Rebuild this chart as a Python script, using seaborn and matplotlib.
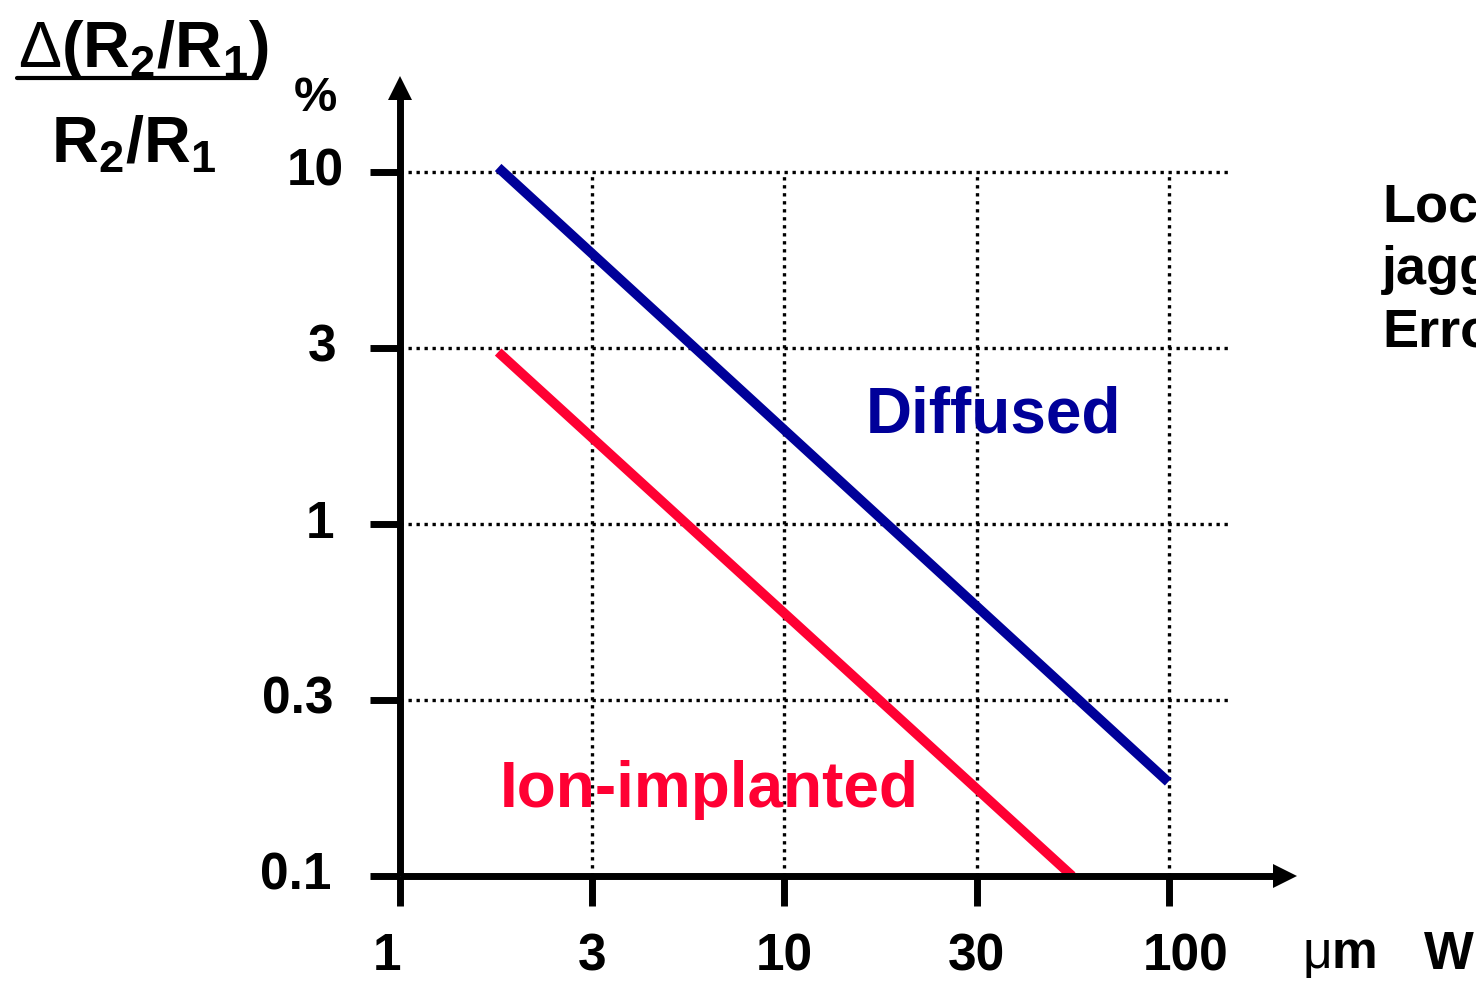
import numpy as np
import pandas as pd
import matplotlib
matplotlib.use("Agg")
import matplotlib.pyplot as plt
import matplotlib.transforms as mtransforms
import seaborn as sns
from matplotlib.lines import Line2D

# ---------------- data ----------------
series_names = ["Diffused", "Ion-implanted"]
w_diffused = [1.8, 99.5]          # µm
ratio_diffused = [10.3, 0.185]    # %
w_ion = [1.8, 56.0]
ratio_ion = [3.08, 0.1]
x_tick_labels = ["1", "3", "10", "30", "100"]
y_tick_labels = ["0.1", "0.3", "1", "3", "10"]
series_colors = {"Diffused": "#000099", "Ion-implanted": "#FF0033"}

# ---------------- style ----------------
sns.set_theme(style="white")
plt.rcParams["font.family"] = ["Liberation Sans", "DejaVu Sans"]
plt.rcParams["mathtext.fontset"] = "custom"
plt.rcParams["mathtext.rm"] = "Liberation Sans"
plt.rcParams["mathtext.bf"] = "Liberation Sans:bold"
plt.rcParams["mathtext.it"] = "Liberation Sans:italic"

W_PX, H_PX = 1476, 986
fig = plt.figure(figsize=(W_PX / 100, H_PX / 100), dpi=100)
fig.patch.set_facecolor("white")

def fx(px):
    return px / W_PX

def fy(py):
    return 1 - py / H_PX

# axes geometry (pixels)
X0, XDEC = 400, 384.5      # x=1 at px 400, one decade = 384.5 px
Y0, YDEC = 876, 352        # y=0.1 at py 876, one decade = 352 px
XR, YT = 1285, 88          # arrow marker centres

ax = fig.add_axes([fx(X0), fy(Y0), (XR - X0) / W_PX, (Y0 - YT) / H_PX])
ax.set_xscale("log")
ax.set_yscale("log")
ax.set_xlim(1, 10 ** ((XR - X0) / XDEC))
ax.set_ylim(0.1, 0.1 * 10 ** ((Y0 - YT) / YDEC))
ax.set_facecolor("white")
for s in ax.spines.values():
    s.set_visible(False)

# half-decade tick spacing, as in the original drawing
x_ticks = [10 ** (i / 2) for i in range(len(x_tick_labels))]
y_ticks = [0.1 * 10 ** (i / 2) for i in range(len(y_tick_labels))]

# dotted grid
x_grid_end = 10 ** ((1230 - X0) / XDEC)
dot = (0, (1, 1.4))
ax.hlines(y_ticks[1:], 1, x_grid_end, colors="black", linestyles=dot, lw=2.4, zorder=1)
ax.vlines(x_ticks[1:], 0.1, y_ticks[-1], colors="black", linestyles=dot, lw=2.4, zorder=1)

# data lines
df = pd.DataFrame({
    "W": w_diffused + w_ion,
    "ratio": ratio_diffused + ratio_ion,
    "process": [series_names[0]] * len(w_diffused) + [series_names[1]] * len(w_ion),
})
sns.lineplot(data=df, x="W", y="ratio", hue="process", palette=series_colors,
             estimator=None, sort=False, lw=7, legend=False, ax=ax, zorder=3)
for ln in ax.get_lines():
    ln.set_solid_capstyle("butt")

# axes with arrow heads
AX_LW = 5
ax.plot([0, 1], [0, 0], transform=ax.transAxes, color="black", lw=AX_LW,
        solid_capstyle="butt", clip_on=False, zorder=4)
ax.plot([0, 0], [0, 1], transform=ax.transAxes, color="black", lw=AX_LW,
        solid_capstyle="butt", clip_on=False, zorder=4)
ax.plot([1], [0], marker=">", ms=17.5, mew=0, color="black",
        transform=ax.transAxes, clip_on=False, zorder=5)
ax.plot([0], [1], marker="^", ms=17.5, mew=0, color="black",
        transform=ax.transAxes, clip_on=False, zorder=5)

# ticks
ax.set_xticks(x_ticks, labels=x_tick_labels, fontsize=37, fontweight="bold")
ax.set_yticks(y_ticks, labels=y_tick_labels, fontsize=37, fontweight="bold")
ax.minorticks_off()
ax.tick_params(axis="both", which="major", direction="out", length=21.6,
               width=AX_LW, color="black", pad=19, labelcolor="black",
               bottom=True, left=True, top=False, right=False)

def shift(lbl, dx_px):
    lbl.set_transform(lbl.get_transform() +
                      mtransforms.ScaledTranslation(dx_px / 100, 0, fig.dpi_scale_trans))

# labels sit slightly off their ticks in the original drawing
x_nudges = {"1": -13, "100": 17}
y_nudges = {"0.1": -12, "0.3": -10, "1": -9, "3": -7}
for lbl in ax.get_xticklabels():
    if lbl.get_text() in x_nudges:
        shift(lbl, x_nudges[lbl.get_text()])
for lbl in ax.get_yticklabels():
    lbl.set_verticalalignment("center")
    if lbl.get_text() in y_nudges:
        shift(lbl, y_nudges[lbl.get_text()])
ax.set_xlabel("")
ax.set_ylabel("")

# series labels
fig.text(fx(993), fy(433), "Diffused", color=series_colors["Diffused"],
         fontsize=46, fontweight="bold", ha="center", va="baseline")
fig.text(fx(709), fy(807), "Ion-implanted", color=series_colors["Ion-implanted"],
         fontsize=46, fontweight="bold", ha="center", va="baseline")

# y axis title (fraction) and unit
fig.text(fx(144), fy(67), r"$\Delta\mathbf{(R_2/R_1)}$", fontsize=46.5,
         ha="center", va="baseline", color="black")
fig.add_artist(Line2D([fx(17), fx(257)], [fy(78), fy(78)], color="black", lw=3))
fig.text(fx(134), fy(163), r"$\mathbf{R_2/R_1}$", fontsize=46.5,
         ha="center", va="baseline", color="black")
fig.text(fx(315), fy(111), "%", fontsize=35, fontweight="bold",
         ha="center", va="baseline", color="black")

# x axis unit / name
fig.text(fx(1302), fy(968), r"$\mathrm{\mu}\mathbf{m}$", fontsize=37,
         ha="left", va="baseline", color="black")
fig.text(fx(1424), fy(969), "W", fontsize=38, fontweight="bold",
         ha="left", va="baseline", color="black")

# side note (cut at the figure edge in the original)
fig.text(fx(1382), fy(182), "Local\njagging\nError", fontsize=39,
         fontweight="bold", ha="left", va="top", linespacing=1.33, color="black")

fig.savefig("out.png", dpi=100, facecolor="white")
